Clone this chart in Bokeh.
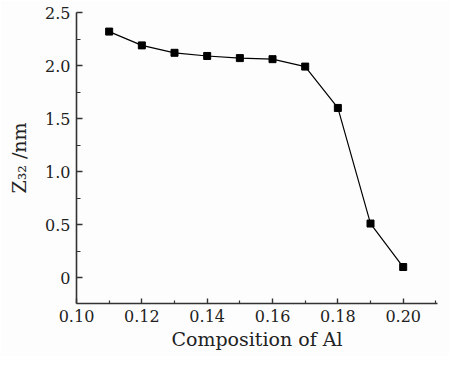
from bokeh.plotting import figure
from bokeh.models import FixedTicker, Range1d
from bokeh.embed import file_html
from bokeh.resources import INLINE

al = [0.11, 0.12, 0.13, 0.14, 0.15, 0.16, 0.17, 0.18, 0.19, 0.20]
z32 = [2.32, 2.19, 2.12, 2.09, 2.07, 2.06, 1.99, 1.60, 0.51, 0.10]

x_ticks = [0.10, 0.12, 0.14, 0.16, 0.18, 0.20]
x_minor = [0.11, 0.13, 0.15, 0.17, 0.19, 0.21]
y_ticks = [0, 0.5, 1.0, 1.5, 2.0, 2.5]
y_minor = [0.25, 0.75, 1.25, 1.75, 2.25]
x_labels = ["0.10", "0.12", "0.14", "0.16", "0.18", "0.20"]
y_labels = ["0", "0.5", "1.0", "1.5", "2.0", "2.5"]

p = figure(width=449, height=356, output_backend="svg", toolbar_location=None,
           x_range=Range1d(0.10, 0.2105), y_range=Range1d(-0.244, 2.5),
           min_border_left=76, min_border_right=12, min_border_top=12, min_border_bottom=53)
p.outline_line_color = None
p.grid.visible = False
p.background_fill_color = "#fdfdfd"
p.border_fill_color = "#fdfdfd"

p.line(al, z32, line_color="black", line_width=1.2)
p.scatter(al, z32, marker="square", size=7, fill_color="black", line_color="black")

font = "DejaVu Serif"
for ax in (p.xaxis[0], p.yaxis[0]):
    ax.axis_line_color = "#333333"
    ax.axis_line_width = 1.6
    ax.major_tick_line_color = "#333333"
    ax.minor_tick_line_color = "#333333"
    ax.major_tick_line_width = 1.4
    ax.minor_tick_line_width = 1.2
    ax.major_tick_out = 0
    ax.minor_tick_out = 0
    ax.major_label_text_font = font
    ax.major_label_text_font_size = "16px"
    ax.major_label_text_color = "#222222"
    ax.axis_label_text_font = font
    ax.axis_label_text_font_size = "19px"
    ax.axis_label_text_font_style = "normal"
    ax.axis_label_text_color = "#222222"

p.xaxis.ticker = FixedTicker(ticks=x_ticks, minor_ticks=x_minor)
p.yaxis.ticker = FixedTicker(ticks=y_ticks, minor_ticks=y_minor)
p.xaxis.major_label_overrides = {t: l for t, l in zip(x_ticks, x_labels)}
p.yaxis.major_label_overrides = {t: l for t, l in zip(y_ticks, y_labels)}
p.xaxis.major_tick_in = 5
p.xaxis.minor_tick_in = 3
p.yaxis.major_tick_in = 6
p.yaxis.minor_tick_in = 4
p.xaxis.major_label_standoff = 6
p.yaxis.major_label_standoff = 6
p.xaxis.axis_label = "Composition of Al"
p.xaxis.axis_label_standoff = 3
p.yaxis.axis_label = "Z\u2083\u2082 /nm"
p.yaxis.axis_label_standoff = 12

open("out.html", "w").write(file_html(p, INLINE))
